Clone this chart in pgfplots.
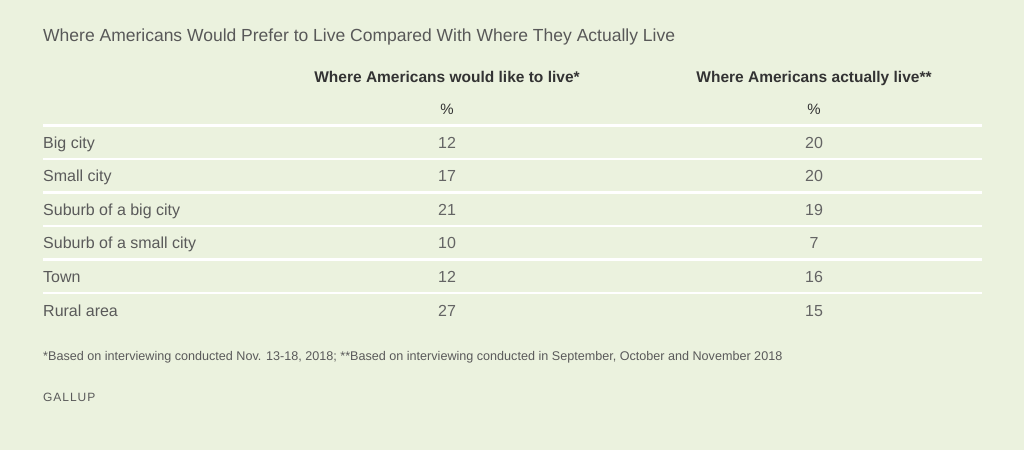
\documentclass[border=0pt]{standalone}
\usepackage{fontspec}
\setmainfont{Liberation Sans}
\usepackage{pgfplots}
\usepackage{pgfplotstable}
\pgfplotsset{compat=1.18}
\definecolor{bg}{RGB}{235,242,222}
\definecolor{titlec}{RGB}{88,88,88}
\definecolor{headc}{RGB}{51,51,51}
\definecolor{labc}{RGB}{90,90,90}
\definecolor{valc}{RGB}{100,100,100}

\pgfplotstableread[col sep=comma]{
label,like,actual,ypos
Big city,12,20,145.5
Small city,17,20,179
Suburb of a big city,21,19,212.5
Suburb of a small city,10,7,246
Town,12,16,279.5
Rural area,27,15,313.5
}\datatable

\begin{document}
\begin{tikzpicture}
\begin{axis}[
  scale only axis, width=1024pt, height=450pt,
  xmin=0, xmax=1024, ymin=0, ymax=450, y dir=reverse,
  hide axis, clip=false,
]
\fill[bg] (axis cs:0,0) rectangle (axis cs:1024,450);
% separators
\draw[white, line width=3pt] (axis cs:43,125) -- (axis cs:982,125);
\foreach \yy in {159,192.5,226,259.5,293}{
  \edef\tmp{\noexpand\draw[white, line width=2.5pt] (axis cs:43,\yy) -- (axis cs:982,\yy);}\tmp
}
% title and headers
\node[anchor=mid west, text=titlec, font=\fontsize{17.5}{20}\selectfont, inner sep=0pt] at (axis cs:43,38.5) {Where Americans Would Prefer to Live Compared With Where They Actually Live};
\node[anchor=mid, text=headc, font=\fontsize{15.5}{18}\selectfont\bfseries, inner sep=0pt] at (axis cs:447,79.5) {Where Americans would like to live*};
\node[anchor=mid, text=headc, font=\fontsize{15.5}{18}\selectfont\bfseries, inner sep=0pt] at (axis cs:814,79.5) {Where Americans actually live**};
\node[anchor=mid, text=headc, font=\fontsize{15}{18}\selectfont, inner sep=0pt] at (axis cs:447,111.5) {\%};
\node[anchor=mid, text=headc, font=\fontsize{15}{18}\selectfont, inner sep=0pt] at (axis cs:814,111.5) {\%};
% row labels
\addplot[draw=none, mark=none, nodes near coords, point meta=explicit symbolic,
  every node near coord/.style={anchor=mid west, inner sep=0pt, text=labc, font=\fontsize{16}{19}\selectfont}]
  table[x expr=43, y=ypos, meta=label] {\datatable};
% values
\addplot[draw=none, mark=none, nodes near coords, point meta=explicit symbolic,
  every node near coord/.style={anchor=mid, inner sep=0pt, text=valc, font=\fontsize{16}{19}\selectfont}]
  table[x expr=447, y=ypos, meta=like] {\datatable};
\addplot[draw=none, mark=none, nodes near coords, point meta=explicit symbolic,
  every node near coord/.style={anchor=mid, inner sep=0pt, text=valc, font=\fontsize{16}{19}\selectfont}]
  table[x expr=814, y=ypos, meta=actual] {\datatable};
% footnote and source
\node[anchor=mid west, text=labc, font=\fontsize{12.6}{15}\selectfont, inner sep=0pt] at (axis cs:43,357.5) {*Based on interviewing conducted Nov. 13-18, 2018; **Based on interviewing conducted in September, October and November 2018};
\node[anchor=mid west, text=labc, font=\fontsize{12}{14}\selectfont\addfontfeature{LetterSpace=8}, inner sep=0pt] at (axis cs:43,398.5) {GALLUP};
\end{axis}
\end{tikzpicture}
\end{document}
